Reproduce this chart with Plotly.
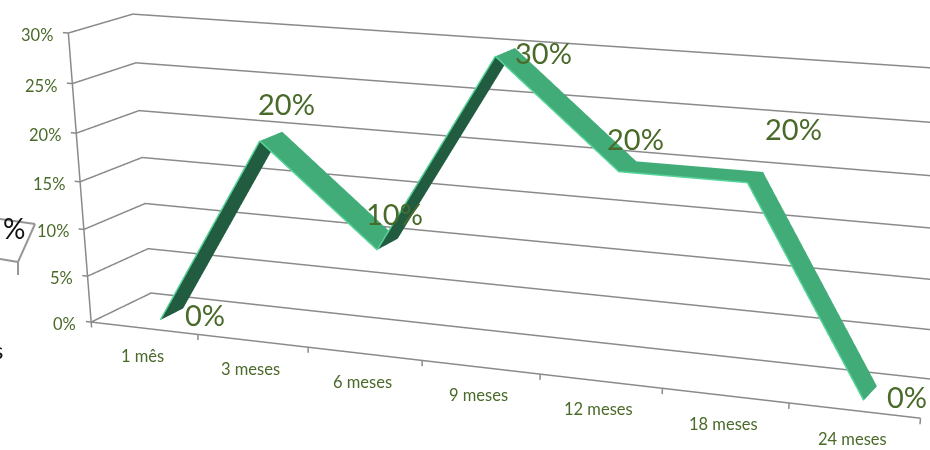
import plotly.graph_objects as go

months = ["1 mês", "3 meses", "6 meses", "9 meses", "12 meses", "18 meses", "24 meses"]
values = [0, 20, 10, 30, 20, 20, 0]
labels = ["0%", "20%", "10%", "30%", "20%", "20%", "0%"]
y_ticks = [0, 5, 10, 15, 20, 25, 30]
y_text = ["0%", "5%", "10%", "15%", "20%", "25%", "30%"]

# style: the reference has a long-lens view, and plotly fixes the field of view to 45 degrees
# vertically, so the scene is taller than the window and its lower part stays out of view.
W, H = 930, 2013
RIBBON = (0.2768, 0.6608)
LABEL_SHIFT = [(33, 0), (15, 33), (7, 31), (38, 0), (8, 28), (38, 49), (37, -3)]
GREY, TEXT = "#8a8a8a", "#4a6a2a"
FONT = "Lato"
n = len(values)
centres = [p + 0.5 for p in range(n)]

xs, ys, zs, i, j, k, fc = [], [], [], [], [], [], []
for c, v in zip(centres, values):
    for d in RIBBON:
        xs.append(c); ys.append(d); zs.append(v)
for s in range(n - 1):
    a = 2 * s
    i += [a, a + 1]; j += [a + 1, a + 3]; k += [a + 2, a + 2]
    col = "#225c40" if values[s + 1] > values[s] else "#41ac78"
    fc += [col, col]

fig = go.Figure()
fig.add_trace(go.Mesh3d(x=xs, y=ys, z=zs, i=i, j=j, k=k, facecolor=fc, flatshading=True,
                        lighting=dict(ambient=1, diffuse=0, specular=0), hoverinfo="skip"))
fig.add_trace(go.Scatter3d(x=centres, y=[RIBBON[0] - 0.005] * n, z=values, mode="lines",
                           line=dict(color="#57d49a", width=3), hoverinfo="skip"))

lx, ly, lz = [], [], []
for t in y_ticks:
    lx += [-0.05, 0, 0, 7, None]; ly += [0, 0, 1, 1, None]; lz += [t, t, t, t, None]
lx += [0, 0, None, 0, 7, None]; ly += [0, 0, None, 0, 0, None]; lz += [0, 30, None, 0, 0, None]
for p in range(n + 1):
    lx += [p, p, None]; ly += [0, 0, None]; lz += [0, -0.6, None]
fig.add_trace(go.Scatter3d(x=lx, y=ly, z=lz, mode="lines", line=dict(color=GREY, width=3), hoverinfo="skip"))

ann = []
for t, s in zip(y_ticks, y_text):
    ann.append(dict(x=0, y=0, z=t, text=s, showarrow=False, xanchor="right", yanchor="middle", xshift=-13, yshift=-2,
                    font=dict(size=16.5, color=TEXT, family=FONT)))
for c, m in zip(centres, months):
    ann.append(dict(x=c, y=0, z=0, text=m, showarrow=False, xanchor="center", yanchor="middle", xshift=-2, yshift=-28,
                    font=dict(size=16.5, color=TEXT, family=FONT)))
mid = sum(RIBBON) / 2
for c, v, s, (dx, dy) in zip(centres, values, labels, LABEL_SHIFT):
    ann.append(dict(x=c, y=mid, z=v, text=s, showarrow=False, xanchor="center", yanchor="middle", xshift=dx, yshift=dy,
                    font=dict(size=29, color=TEXT, family=FONT)))

# fragments of a neighbouring chart clipped by the left edge of the picture
def py(v):
    return 1 - v / H
frag = [((0, 219), (35, 224)), ((35, 224), (18, 262)), ((18, 262), (0, 259)), ((18, 262), (18, 275))]
shapes = [dict(type="line", xref="paper", yref="paper", x0=a[0] / W, x1=b[0] / W, y0=py(a[1]), y1=py(b[1]),
               line=dict(color="#969696", width=2)) for a, b in frag]
frag_text = [dict(text="%", x=14 / W, y=py(228), xref="paper", yref="paper", xanchor="center", yanchor="middle", showarrow=False,
                  font=dict(size=28, color="#111111", family=FONT)),
             dict(text="s", x=5 / W, y=py(349), xref="paper", yref="paper", xanchor="right", yanchor="middle", showarrow=False,
                  font=dict(size=24, color="#111111", family=FONT))]

fig.update_layout(
    width=W, height=H, margin=dict(l=0, r=0, t=0, b=0), paper_bgcolor="white", showlegend=False,
    shapes=shapes, annotations=frag_text,
    scene=dict(
        aspectmode="manual", aspectratio=dict(x=3.0 * 7.2 / 7, y=0.4386 * 1.2, z=0.9675 * 33 / 30),
        camera=dict(eye=dict(x=3.0757, y=-7.7364, z=1.8148), center=dict(x=0.3817, y=-1.2773, z=-2.3144),
                    up=dict(x=-0.0678, y=0.1656, z=1), projection=dict(type="perspective")),
        xaxis=dict(visible=False, range=[-0.1, 7.1]),
        yaxis=dict(visible=False, range=[-0.1, 1.1]),
        zaxis=dict(visible=False, range=[-1.5, 31.5]),
        annotations=ann,
    ),
)
fig.write_html("out.html", config=dict(displayModeBar=False),
               post_script="document.documentElement.style.overflow='hidden';document.body.style.margin='0';")
